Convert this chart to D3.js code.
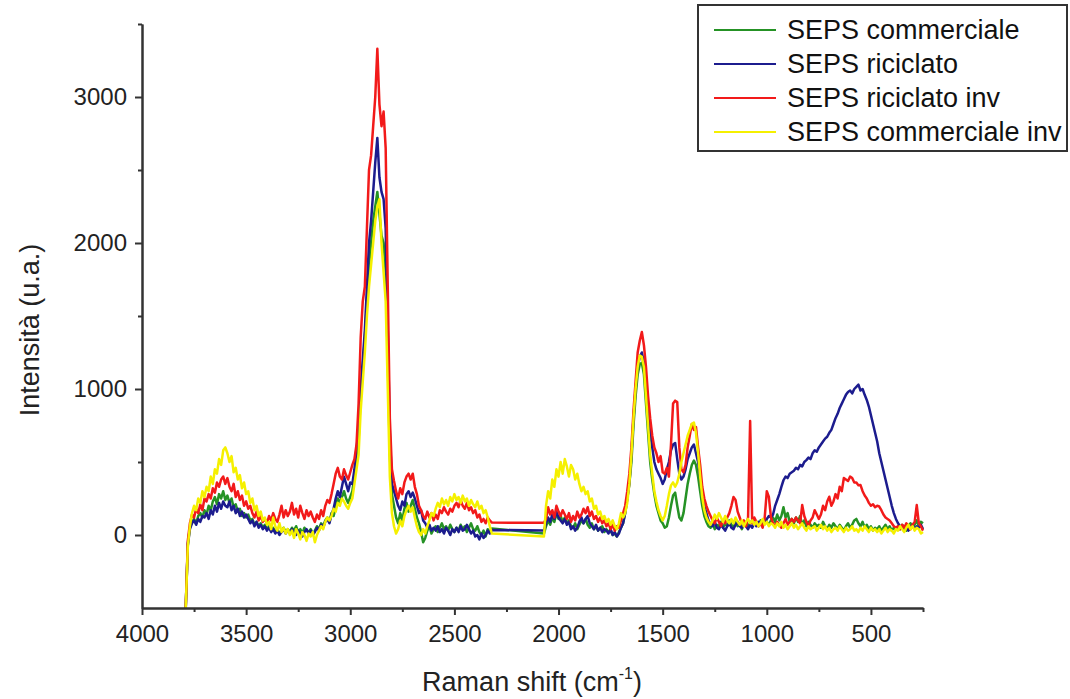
<!DOCTYPE html>
<html>
<head>
<meta charset="utf-8">
<script src="https://cdn.jsdelivr.net/npm/d3@7"></script>
<style>
  body { margin: 0; background: #fff; }
  text { font-family: "Liberation Sans", Arial, sans-serif; }
</style>
</head>
<body>
<svg id="chart" width="1070" height="699"></svg>
<script>
// Raman spectra of SEPS samples (intensity in arbitrary units)
const seriesNames = ["SEPS commerciale", "SEPS riciclato", "SEPS riciclato inv", "SEPS commerciale inv"];
const seriesColors = ["#259225", "#1c1c8e", "#f21a1a", "#f5f000"];

// wavenumber grids (cm-1): high-shift block and low-shift block, 10 cm-1 step
const shiftA = d3.range(3790, 2315, -10);   // 3790 … 2320
const shiftB = d3.range(2070, 245, -10);    // 2070 … 250

const commercialeA = [
  -500, -60, 50, 90, 110, 80, 130, 150, 120, 170,
  140, 200, 170, 230, 260, 210, 280, 250, 300, 240,
  270, 220, 250, 190, 210, 160, 180, 130, 150, 120,
  140, 100, 110, 70, 90, 60, 80, 50, 70, 40,
  60, 30, 50, 20, 40, 10, 30, 50, 20, 40,
  20, 50, 30, 60, 20, 40, 10, 50, 30, 20,
  40, 10, 30, 60, 40, 80, 60, 100, 120, 90,
  150, 130, 190, 250, 220, 260, 300, 250, 220, 260,
  300, 400, 550, 650, 950, 1150, 1350, 1600, 1850, 2000,
  2150, 2250, 2350, 2200, 2050, 2000, 1800, 1200, 550, 280,
  200, 120, 80, 150, 100, 180, 220, 160, 200, 240,
  180, 120, 80, 20, -50, -20, 30, 60, 10, 40,
  60, 20, 50, 80, 40, 60, 30, 70, 40, 20,
  50, 30, 70, 40, 60, 20, 50, 80, 40, 30,
  60, 20, 0, 30, -10, 40, 20, 45
];
const commercialeB = [
  10, 60, 100, 70, 120, 90, 150, 110, 130, 90,
  120, 80, 100, 60, 50, 80, 40, 70, 100, 80,
  110, 70, 50, 80, 40, 60, 30, 50, 60, 20,
  40, 20, 30, 0, 10, -10, 20, 50, 80, 150,
  250, 350, 500, 750, 950, 1100, 1170, 1180, 1100, 900,
  700, 500, 380, 280, 200, 150, 100, 80, 50, 60,
  120, 200, 270, 290, 200, 120, 100, 150, 250, 350,
  420, 480, 510, 480, 400, 300, 200, 130, 90, 60,
  50, 80, 40, 70, 60, 90, 50, 80, 60, 100,
  70, 50, 90, 60, 80, 40, 70, 90, 60, 80,
  100, 70, 90, 60, 100, 80, 110, 90, 70, 100,
  120, 90, 140, 100, 130, 190, 120, 150, 90, 110,
  80, 120, 90, 130, 70, 100, 60, 90, 70, 50,
  80, 60, 70, 50, 90, 60, 40, 70, 50, 80,
  60, 40, 70, 50, 30, 60, 80, 50, 70, 100,
  110, 80, 60, 90, 50, 70, 40, 60, 30, 50,
  40, 60, 30, 50, 70, 40, 60, 30, 50, 40,
  60, 40, 70, 50, 30, 60, 80, 50, 70, 100,
  60, 90, 80
];

const riciclatoA = [
  -500, -70, 40, 80, 100, 70, 110, 90, 130, 120,
  150, 110, 170, 140, 200, 160, 220, 180, 230, 200,
  190, 230, 170, 200, 150, 180, 130, 160, 120, 140,
  110, 80, 100, 60, 90, 50, 70, 40, 60, 30,
  50, 20, 40, 10, 30, 0, 20, 40, 10, 30,
  10, 40, 20, 0, 30, 10, -10, 20, 40, 10,
  30, 0, 20, 50, 30, 70, 50, 90, 110, 80,
  140, 180, 250, 300, 260, 330, 400, 350, 300, 360,
  350, 450, 600, 700, 1000, 1200, 1400, 1700, 2000, 2150,
  2350, 2550, 2720, 2450, 2350, 2300, 2100, 1400, 700, 350,
  300, 250, 200, 170, 230, 200, 280, 300, 260, 290,
  250, 200, 150, 170, 100, 80, 50, 70, 30, 50,
  30, 60, 20, 40, 10, 50, 30, 0, 40, 20,
  50, 20, 60, 30, 40, 70, 40, 10, 30, -10,
  0, -30, 10, -20, 0, 30, 10, 35
];
const riciclatoB = [
  30, 80, 120, 90, 140, 110, 160, 120, 100, 80,
  110, 70, 90, 40, 60, 30, 50, 90, 120, 80,
  110, 130, 80, 60, 40, 70, 30, 50, 20, 40,
  30, 10, 40, 0, 20, -10, 10, 50, 80, 150,
  250, 350, 550, 800, 1000, 1150, 1220, 1250, 1180, 1000,
  850, 700, 600, 500, 450, 420, 390, 350, 380, 450,
  500, 580, 620, 630, 520, 420, 380, 400, 450, 520,
  560, 600, 620, 560, 500, 400, 280, 200, 150, 100,
  70, 60, 90, 50, 40, 70, 50, 30, 60, 80,
  50, 40, 70, 90, 60, 50, 80, 60, 40, 70,
  50, 80, 60, 90, 70, 100, 80, 110, 130, 120,
  140, 200, 240, 280, 330, 375, 400, 390, 420, 430,
  440, 460, 450, 480, 470, 500, 513, 530, 520, 560,
  580, 570, 600, 620, 640, 660, 673, 700, 720, 760,
  800, 830, 870, 900, 930, 960, 980, 990, 970, 1000,
  1015, 1030, 990, 1000, 960, 925, 880, 820, 760, 700,
  640, 560, 500, 440, 380, 320, 260, 200, 150, 110,
  80, 60, 50, 40, 60, 30, 50, 70, 40, 60,
  50, 70, 40
];

const riciclatoInvA = [
  -500, -40, 80, 140, 120, 180, 150, 210, 170, 250,
  230, 280, 250, 320, 290, 360, 330, 380, 400, 350,
  390, 330, 300, 350, 260, 300, 240, 270, 200, 230,
  180, 200, 150, 120, 160, 100, 130, 90, 110, 80,
  130, 100, 150, 110, 90, 140, 200, 120, 170, 130,
  160, 220, 140, 180, 120, 200, 150, 110, 170, 130,
  160, 120, 90, 140, 110, 170, 130, 200, 240, 220,
  280, 350, 420, 460, 400, 380, 450, 410, 380, 430,
  480, 520, 620, 900, 1350, 1600, 1700, 2100, 2500, 2600,
  2800, 3000, 3330, 2950, 2800, 2900, 2650, 1700, 800, 450,
  370, 300, 250, 320, 280, 360, 400, 420, 380, 420,
  330, 280, 200, 170, 130, 110, 160, 120, 150, 100,
  140, 110, 170, 150, 190, 160, 140, 180, 160, 200,
  220, 190, 240, 200, 180, 220, 170, 190, 150, 170,
  120, 140, 90, 110, 80, 120, 100, 85
];
const riciclatoInvB = [
  84, 110, 190, 140, 170, 120, 200, 160, 130, 170,
  140, 110, 150, 90, 130, 100, 160, 120, 140, 180,
  150, 190, 130, 160, 110, 130, 90, 120, 80, 100,
  60, 80, 40, 70, 30, 60, 50, 100, 150, 200,
  300, 420, 600, 850, 1050, 1250, 1330, 1390, 1300, 1150,
  950, 800, 680, 600, 560, 500, 540, 430, 420, 460,
  400, 620, 900, 920, 910, 600, 450, 430, 480, 600,
  680, 760, 720, 740, 600, 480, 330, 250, 200, 160,
  130, 100, 80, 120, 90, 60, 100, 80, 120, 150,
  200, 260, 240, 160, 120, 80, 100, 60, 120, 780,
  80, 120, 90, 60, 80, 50, 120, 300, 260, 120,
  80, 60, 90, 70, 50, 80, 110, 70, 90, 110,
  90, 120, 100, 80, 205, 130, 90, 60, 100, 120,
  170, 140, 110, 140, 200, 170, 230, 262, 200, 230,
  280, 250, 330, 300, 390, 380, 370, 400, 390, 360,
  360, 340, 342, 300, 270, 250, 220, 200, 210, 190,
  200, 195, 170, 140, 120, 110, 100, 80, 60, 50,
  60, 40, 70, 50, 80, 60, 40, 70, 90, 205,
  80, 60, 30
];

const commercialeInvA = [
  -500, -80, 60, 150, 200, 170, 250, 220, 300, 260,
  330, 300, 400, 350, 450, 420, 520, 480, 580, 600,
  560, 500, 540, 430, 460, 380, 410, 320, 360, 280,
  300, 220, 250, 170, 200, 130, 160, 100, 120, 70,
  90, 40, 120, 60, 30, 80, 20, 50, 10, 40,
  0, 30, -20, 40, 10, -30, 20, 0, -40, 10,
  -10, 20, -50, 0, 30, 60, 40, 90, 120, 100,
  130, 180, 160, 220, 200, 250, 230, 200, 180, 220,
  250, 350, 450, 550, 850, 1050, 1250, 1500, 1700, 1850,
  2000, 2150, 2250, 2300, 2000, 1800, 1600, 1000, 400, 150,
  60, 10, 40, 100, 60, 130, 170, 200, 160, 190,
  120, 60, 20, 0, 40, 10, 60, 100, 150, 130,
  180, 220, 190, 250, 210, 240, 200, 260, 230, 280,
  240, 260, 220, 270, 230, 250, 200, 240, 210, 190,
  230, 180, 200, 150, 170, 120, 60, 10
];
const commercialeInvB = [
  -10, 200, 300, 250, 380, 330, 450, 400, 500, 420,
  520, 470, 400, 480, 450, 380, 420, 350, 300, 330,
  280, 300, 230, 250, 180, 200, 140, 160, 110, 130,
  90, 110, 70, 100, 60, 40, 80, 150, 120, 150,
  220, 350, 550, 800, 1000, 1150, 1230, 1220, 1150, 950,
  750, 550, 420, 300, 230, 170, 130, 100, 130, 200,
  280, 340, 360, 330, 360, 420, 500, 560, 620, 680,
  720, 760, 770, 700, 560, 400, 260, 170, 120, 90,
  70, 100, 140, 110, 150, 120, 90, 130, 100, 80,
  110, 80, 120, 90, 70, 100, 60, 90, 110, 80,
  100, 70, 90, 60, 80, 110, 70, 90, 60, 80,
  70, 50, 80, 60, 90, 50, 70, 40, 60, 80,
  50, 70, 40, 60, 80, 50, 30, 60, 40, 50,
  60, 30, 50, 70, 40, 60, 30, 50, 20, 40,
  50, 30, 60, 40, 20, 50, 30, 40, 60, 30,
  40, 20, 50, 30, 60, 40, 20, 50, 30, 40,
  20, 40, 10, 30, 50, 20, 40, 30, 10, 40,
  30, 60, 40, 20, 50, 70, 40, 60, 30, 50,
  40, 10, 20
];

const xMajorTicks = [4000, 3500, 3000, 2500, 2000, 1500, 1000, 500];
const xMinorTicks = [3750, 3250, 2750, 2250, 1750, 1250, 750, 250];
const yMajorTicks = [0, 1000, 2000, 3000];
const yMinorTicks = [500, 1500, 2500, 3500];

const svg = d3.select("#chart");
const x = d3.scaleLinear().domain([4000, 250]).range([142, 923]);
const y = d3.scaleLinear().domain([-500, 3500]).range([608, 24]);

const spectra = [
  [commercialeA, commercialeB],
  [riciclatoA, riciclatoB],
  [riciclatoInvA, riciclatoInvB],
  [commercialeInvA, commercialeInvB]
].map(([a, b]) => d3.zip(shiftA, a).concat(d3.zip(shiftB, b)));

const line = d3.line().x(d => x(d[0])).y(d => y(d[1]));

svg.append("g")
  .selectAll("path")
  .data(spectra)
  .join("path")
  .attr("d", line)
  .attr("fill", "none")
  .attr("stroke", (d, i) => seriesColors[i])
  .attr("stroke-width", 2.5)
  .attr("stroke-linejoin", "round");

// axes
const axisColor = "#333";
function styleAxis(g, fontSize) {
  g.select(".domain").attr("stroke", axisColor).attr("stroke-width", 2);
  g.selectAll(".tick line").attr("stroke", axisColor).attr("stroke-width", 2);
  g.selectAll(".tick text").attr("fill", "#222").style("font-size", fontSize + "px")
    .style("font-family", '"Liberation Sans", Arial, sans-serif');
}

const gxMinor = svg.append("g").attr("transform", "translate(0,608)")
  .call(d3.axisBottom(x).tickValues(xMinorTicks).tickSize(4).tickSizeOuter(0).tickFormat(""));
styleAxis(gxMinor, 24);
const gx = svg.append("g").attr("transform", "translate(0,608)")
  .call(d3.axisBottom(x).tickValues(xMajorTicks).tickSize(7).tickSizeOuter(0).tickPadding(10).tickFormat(d3.format("d")));
styleAxis(gx, 24);

const gyMinor = svg.append("g").attr("transform", "translate(142,0)")
  .call(d3.axisLeft(y).tickValues(yMinorTicks).tickSize(4).tickSizeOuter(0).tickFormat(""));
styleAxis(gyMinor, 24);
const gy = svg.append("g").attr("transform", "translate(142,0)")
  .call(d3.axisLeft(y).tickValues(yMajorTicks).tickSize(7).tickSizeOuter(0).tickPadding(8).tickFormat(d3.format("d")));
styleAxis(gy, 24);

// axis titles
const xTitle = svg.append("text")
  .attr("x", 532).attr("y", 691)
  .attr("text-anchor", "middle")
  .attr("fill", "#222")
  .style("font-size", "27px");
xTitle.append("tspan").text("Raman shift (cm");
xTitle.append("tspan").attr("dy", -12).style("font-size", "16px").text("-1");
xTitle.append("tspan").attr("dy", 12).text(")");

svg.append("text")
  .attr("transform", "translate(39,330) rotate(-90)")
  .attr("text-anchor", "middle")
  .attr("fill", "#222")
  .style("font-size", "27px")
  .text("Intensità (u.a.)");

// legend
const legend = svg.append("g");
legend.append("rect")
  .attr("x", 698).attr("y", 5).attr("width", 369).attr("height", 146)
  .attr("fill", "#fff").attr("stroke", axisColor).attr("stroke-width", 2);
const rows = legend.selectAll("g.row").data(seriesNames).join("g")
  .attr("class", "row")
  .attr("transform", (d, i) => `translate(0,${30 + i * 34})`);
rows.append("line")
  .attr("x1", 714).attr("x2", 776).attr("y1", 0).attr("y2", 0)
  .attr("stroke", (d, i) => seriesColors[i]).attr("stroke-width", 2);
rows.append("text")
  .attr("x", 787).attr("y", 0).attr("dy", "0.35em")
  .attr("fill", "#111")
  .style("font-size", "27px")
  .text(d => d);
</script>
</body>
</html>
